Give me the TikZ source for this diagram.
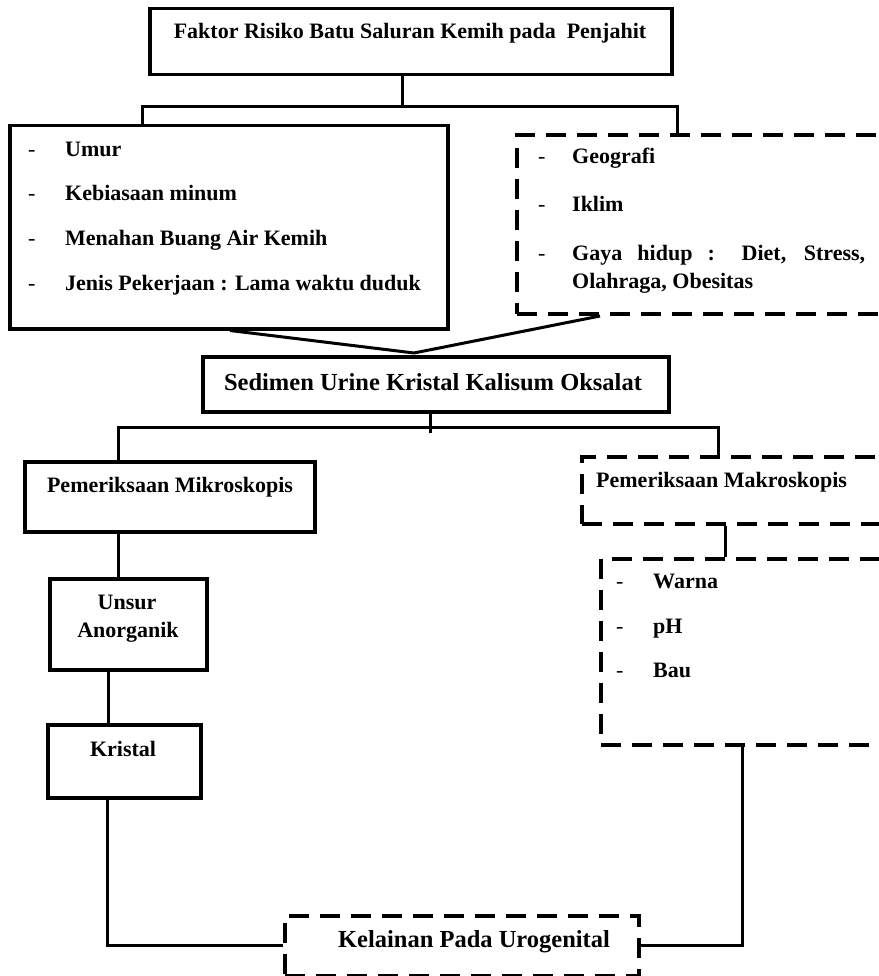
\documentclass[tikz,border=0pt]{standalone}
\usepackage{fontspec}
\setmainfont{Liberation Serif}
\begin{document}
\begin{tikzpicture}[x=1pt,y=-1pt,
  box/.style={draw, line width=3.5pt, rectangle, inner sep=0pt, anchor=north west},
  dbox/.style={draw, line width=4pt, dash pattern=on 20pt off 11pt, rectangle, inner sep=0pt, anchor=north west},
  conn/.style={line width=3pt},
  txt/.style={inner sep=0pt, font=\bfseries\fontsize{22}{26}\selectfont},
  bigtxt/.style={inner sep=0pt, font=\bfseries\fontsize{24.5}{28}\selectfont},
  hy/.style={inner sep=0pt, font=\fontsize{22}{26}\selectfont, anchor=base west}
]
\useasboundingbox (0,0) rectangle (878,976);
% boxes
\node[box, minimum width=522pt, minimum height=66pt] (title) at (148,7) {};
\node[box, minimum width=438pt, minimum height=203pt] (lbox) at (8,124) {};
\node[dbox, minimum width=400pt, minimum height=179pt] (rbox) at (515,133) {};
\node[box, minimum width=466pt, minimum height=55pt] (mid) at (201,355) {};
\node[box, minimum width=290pt, minimum height=70pt] (mikro) at (23,460) {};
\node[dbox, minimum width=330pt, minimum height=67pt] (makro) at (580,455) {};
\node[dbox, minimum width=310pt, minimum height=186pt] (fisik) at (599,557) {};
\node[box, minimum width=157pt, minimum height=91pt] (unsur) at (48,577) {};
\node[box, minimum width=153pt, minimum height=73pt] (kristal) at (46,723) {};
\node[dbox, minimum width=354pt, minimum height=60pt] (kelainan) at (283,914) {};
% texts
\node[txt, anchor=base] (t1) at (410,39) {Faktor Risiko Batu Saluran Kemih pada\ \ Penjahit};
\node[hy] (d1) at (28,157) {-};
\node[txt, anchor=base west] (a1) at (65,157) {Umur};
\node[hy] (d2) at (28,201) {-};
\node[txt, anchor=base west] (a2) at (65,201) {Kebiasaan minum};
\node[hy] (d3) at (28,245) {-};
\node[txt, anchor=base west] (a3) at (65,245) {Menahan Buang Air Kemih};
\node[hy] (d4) at (28,290) {-};
\node[txt, anchor=base west] (a4) at (65,290) {Jenis Pekerjaan : Lama waktu duduk};
\node[hy] (e1) at (538,164) {-};
\node[txt, anchor=base west] (b1) at (572,164) {Geografi};
\node[hy] (e2) at (538,212) {-};
\node[txt, anchor=base west] (b2) at (572,212) {Iklim};
\node[hy] (e3) at (538,260) {-};
\node[txt, anchor=base west] (b3) at (572,260) {\makebox[293pt][s]{Gaya hidup : Diet, Stress,}};
\node[txt, anchor=base west] (b4) at (572,288) {Olahraga, Obesitas};
\node[bigtxt, anchor=base] (tm) at (433,390) {Sedimen Urine Kristal Kalisum Oksalat};
\node[txt, anchor=base] (tmik) at (170,492) {Pemeriksaan Mikroskopis};
\node[txt, anchor=base west] (tmak) at (596,487) {Pemeriksaan Makroskopis};
\node[hy] (f1) at (616,588) {-};
\node[txt, anchor=base west] (c1) at (653,588) {Warna};
\node[hy] (f2) at (616,633) {-};
\node[txt, anchor=base west] (c2) at (653,633) {pH};
\node[hy] (f3) at (616,677) {-};
\node[txt, anchor=base west] (c3) at (653,677) {Bau};
\node[txt, anchor=base] (tu1) at (127,609) {Unsur};
\node[txt, anchor=base] (tu2) at (128,637) {Anorganik};
\node[txt, anchor=base] (tk) at (123,756) {Kristal};
\node[bigtxt, anchor=base] (tkel) at (474,947) {Kelainan Pada Urogenital};
% connectors
\coordinate (j1) at (402,107);
\coordinate (h1l) at (142,107);
\coordinate (h1r) at (677,107);
\draw[conn] (title.south -| j1) -- (j1);
\draw[conn] (h1l |- lbox.north) -- (h1l) -- (h1r) -- (h1r |- rbox.north);
\coordinate (apex) at (414,353);
\coordinate (cl) at (230,327);
\coordinate (cr) at (600,316);
\draw[conn] (cl |- lbox.south) -- (apex);
\draw[conn] (cr) -- (apex);
\coordinate (j2) at (430,433);
\coordinate (h2l) at (118,427);
\coordinate (h2r) at (718,427);
\draw[conn] (mid.south -| j2) -- (j2);
\draw[conn] (h2l |- mikro.north) -- (h2l) -- (h2r) -- (h2r |- makro.north);
\coordinate (j3) at (725,0);
\draw[conn] (j3 |- makro.south) -- (j3 |- fisik.north);
\coordinate (j4) at (118,0);
\draw[conn] (j4 |- mikro.south) -- (j4 |- unsur.north);
\coordinate (j5) at (108,0);
\draw[conn] (j5 |- unsur.south) -- (j5 |- kristal.north);
\coordinate (bl) at (107,945);
\coordinate (br) at (742,945);
\draw[conn] (bl |- kristal.south) -- (bl) -- (kelainan.west |- bl);
\draw[conn] (kelainan.east |- br) -- (br) -- (br |- fisik.south);
\end{tikzpicture}
\end{document}
